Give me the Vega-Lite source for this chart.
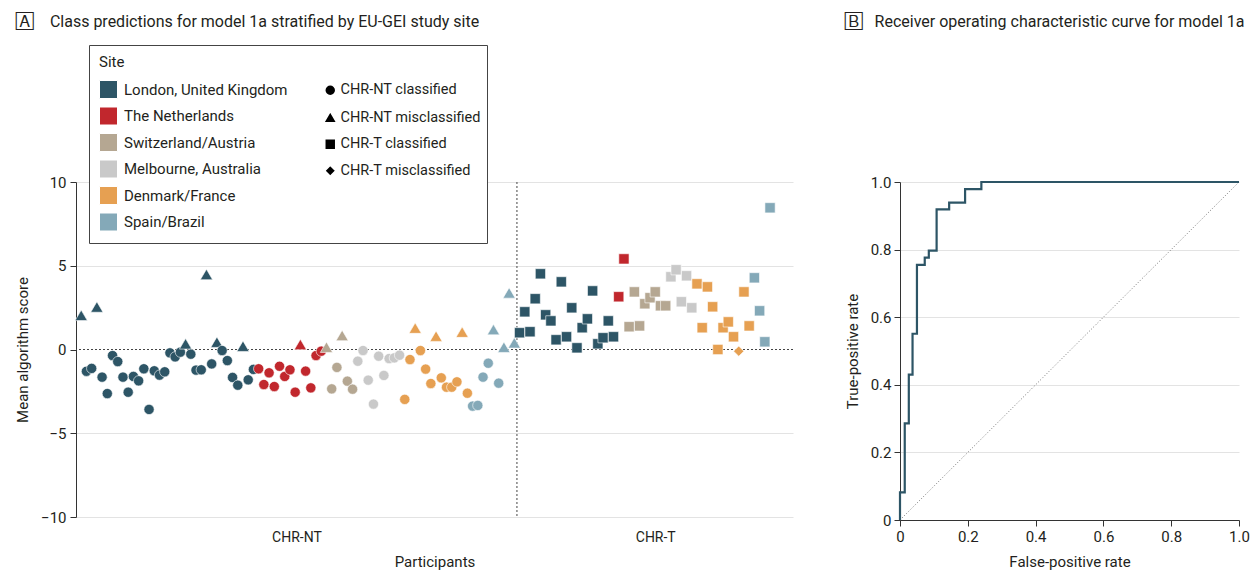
{
  "$schema": "https://vega.github.io/schema/vega-lite/v6.json",
  "padding": {"left": 15, "top": 14, "right": 5, "bottom": 5},
  "background": "white",
  "spacing": 51,
  "config": {
    "font": "Roboto",
    "view": {"stroke": null},
    "title": {"fontSize": 16, "fontWeight": "normal", "color": "#231f20", "anchor": "start", "frame": "bounds"},
    "axis": {"labelFontSize": 15, "titleFontSize": 15, "titleFontWeight": "normal", "labelColor": "#231f20", "titleColor": "#231f20", "domainColor": "#555555", "tickColor": "#555555", "gridColor": "#e3e3e3"},
    "legend": {"labelFontSize": 15, "titleFontSize": 15, "titleFontWeight": "normal", "labelColor": "#231f20", "titleColor": "#231f20", "titleLimit": 600, "labelLimit": 400}
  },
  "hconcat": [
    {
      "width": 717,
      "height": 335,
      "title": {"text": "🄰\u2003Class predictions for model 1a stratified by EU-GEI study site", "offset": 145},
      "data": {"values": [
        {"participant": 1, "score": 2.0, "site": "London, United Kingdom", "status": "CHR-NT misclassified"},
        {"participant": 2, "score": -1.3, "site": "London, United Kingdom", "status": "CHR-NT classified"},
        {"participant": 3, "score": -1.13, "site": "London, United Kingdom", "status": "CHR-NT classified"},
        {"participant": 4, "score": 2.5, "site": "London, United Kingdom", "status": "CHR-NT misclassified"},
        {"participant": 5, "score": -1.65, "site": "London, United Kingdom", "status": "CHR-NT classified"},
        {"participant": 6, "score": -2.63, "site": "London, United Kingdom", "status": "CHR-NT classified"},
        {"participant": 7, "score": -0.36, "site": "London, United Kingdom", "status": "CHR-NT classified"},
        {"participant": 8, "score": -0.72, "site": "London, United Kingdom", "status": "CHR-NT classified"},
        {"participant": 9, "score": -1.65, "site": "London, United Kingdom", "status": "CHR-NT classified"},
        {"participant": 10, "score": -2.55, "site": "London, United Kingdom", "status": "CHR-NT classified"},
        {"participant": 11, "score": -1.61, "site": "London, United Kingdom", "status": "CHR-NT classified"},
        {"participant": 12, "score": -1.87, "site": "London, United Kingdom", "status": "CHR-NT classified"},
        {"participant": 13, "score": -1.15, "site": "London, United Kingdom", "status": "CHR-NT classified"},
        {"participant": 14, "score": -3.58, "site": "London, United Kingdom", "status": "CHR-NT classified"},
        {"participant": 15, "score": -1.27, "site": "London, United Kingdom", "status": "CHR-NT classified"},
        {"participant": 16, "score": -1.53, "site": "London, United Kingdom", "status": "CHR-NT classified"},
        {"participant": 17, "score": -1.33, "site": "London, United Kingdom", "status": "CHR-NT classified"},
        {"participant": 18, "score": -0.2, "site": "London, United Kingdom", "status": "CHR-NT classified"},
        {"participant": 19, "score": -0.44, "site": "London, United Kingdom", "status": "CHR-NT classified"},
        {"participant": 20, "score": -0.16, "site": "London, United Kingdom", "status": "CHR-NT classified"},
        {"participant": 21, "score": 0.3, "site": "London, United Kingdom", "status": "CHR-NT misclassified"},
        {"participant": 22, "score": -0.28, "site": "London, United Kingdom", "status": "CHR-NT classified"},
        {"participant": 23, "score": -1.23, "site": "London, United Kingdom", "status": "CHR-NT classified"},
        {"participant": 24, "score": -1.21, "site": "London, United Kingdom", "status": "CHR-NT classified"},
        {"participant": 25, "score": 4.44, "site": "London, United Kingdom", "status": "CHR-NT misclassified"},
        {"participant": 26, "score": -0.86, "site": "London, United Kingdom", "status": "CHR-NT classified"},
        {"participant": 27, "score": 0.4, "site": "London, United Kingdom", "status": "CHR-NT misclassified"},
        {"participant": 28, "score": -0.06, "site": "London, United Kingdom", "status": "CHR-NT classified"},
        {"participant": 29, "score": -0.66, "site": "London, United Kingdom", "status": "CHR-NT classified"},
        {"participant": 30, "score": -1.67, "site": "London, United Kingdom", "status": "CHR-NT classified"},
        {"participant": 31, "score": -2.13, "site": "London, United Kingdom", "status": "CHR-NT classified"},
        {"participant": 32, "score": 0.16, "site": "London, United Kingdom", "status": "CHR-NT misclassified"},
        {"participant": 33, "score": -1.81, "site": "London, United Kingdom", "status": "CHR-NT classified"},
        {"participant": 34, "score": -1.19, "site": "London, United Kingdom", "status": "CHR-NT classified"},
        {"participant": 35, "score": -1.15, "site": "The Netherlands", "status": "CHR-NT classified"},
        {"participant": 36, "score": -2.09, "site": "The Netherlands", "status": "CHR-NT classified"},
        {"participant": 37, "score": -1.39, "site": "The Netherlands", "status": "CHR-NT classified"},
        {"participant": 38, "score": -2.21, "site": "The Netherlands", "status": "CHR-NT classified"},
        {"participant": 39, "score": -1.0, "site": "The Netherlands", "status": "CHR-NT classified"},
        {"participant": 40, "score": -1.61, "site": "The Netherlands", "status": "CHR-NT classified"},
        {"participant": 41, "score": -1.21, "site": "The Netherlands", "status": "CHR-NT classified"},
        {"participant": 42, "score": -2.55, "site": "The Netherlands", "status": "CHR-NT classified"},
        {"participant": 43, "score": 0.26, "site": "The Netherlands", "status": "CHR-NT misclassified"},
        {"participant": 44, "score": -1.29, "site": "The Netherlands", "status": "CHR-NT classified"},
        {"participant": 45, "score": -2.29, "site": "The Netherlands", "status": "CHR-NT classified"},
        {"participant": 46, "score": -0.36, "site": "The Netherlands", "status": "CHR-NT classified"},
        {"participant": 47, "score": -0.1, "site": "The Netherlands", "status": "CHR-NT classified"},
        {"participant": 48, "score": 0.1, "site": "Switzerland/Austria", "status": "CHR-NT misclassified"},
        {"participant": 49, "score": -2.35, "site": "Switzerland/Austria", "status": "CHR-NT classified"},
        {"participant": 50, "score": -1.07, "site": "Switzerland/Austria", "status": "CHR-NT classified"},
        {"participant": 51, "score": 0.8, "site": "Switzerland/Austria", "status": "CHR-NT misclassified"},
        {"participant": 52, "score": -1.89, "site": "Switzerland/Austria", "status": "CHR-NT classified"},
        {"participant": 53, "score": -2.37, "site": "Switzerland/Austria", "status": "CHR-NT classified"},
        {"participant": 54, "score": -0.7, "site": "Melbourne, Australia", "status": "CHR-NT classified"},
        {"participant": 55, "score": -0.06, "site": "Melbourne, Australia", "status": "CHR-NT classified"},
        {"participant": 56, "score": -1.83, "site": "Melbourne, Australia", "status": "CHR-NT classified"},
        {"participant": 57, "score": -3.26, "site": "Melbourne, Australia", "status": "CHR-NT classified"},
        {"participant": 58, "score": -0.4, "site": "Melbourne, Australia", "status": "CHR-NT classified"},
        {"participant": 59, "score": -1.55, "site": "Melbourne, Australia", "status": "CHR-NT classified"},
        {"participant": 60, "score": -0.54, "site": "Melbourne, Australia", "status": "CHR-NT classified"},
        {"participant": 61, "score": -0.5, "site": "Melbourne, Australia", "status": "CHR-NT classified"},
        {"participant": 62, "score": -0.34, "site": "Melbourne, Australia", "status": "CHR-NT classified"},
        {"participant": 63, "score": -2.98, "site": "Denmark/France", "status": "CHR-NT classified"},
        {"participant": 64, "score": -0.6, "site": "Denmark/France", "status": "CHR-NT classified"},
        {"participant": 65, "score": 1.24, "site": "Denmark/France", "status": "CHR-NT misclassified"},
        {"participant": 66, "score": -0.06, "site": "Denmark/France", "status": "CHR-NT classified"},
        {"participant": 67, "score": -1.17, "site": "Denmark/France", "status": "CHR-NT classified"},
        {"participant": 68, "score": -2.03, "site": "Denmark/France", "status": "CHR-NT classified"},
        {"participant": 69, "score": 0.76, "site": "Denmark/France", "status": "CHR-NT misclassified"},
        {"participant": 70, "score": -1.69, "site": "Denmark/France", "status": "CHR-NT classified"},
        {"participant": 71, "score": -2.25, "site": "Denmark/France", "status": "CHR-NT classified"},
        {"participant": 72, "score": -2.25, "site": "Denmark/France", "status": "CHR-NT classified"},
        {"participant": 73, "score": -1.93, "site": "Denmark/France", "status": "CHR-NT classified"},
        {"participant": 74, "score": 1.0, "site": "Denmark/France", "status": "CHR-NT misclassified"},
        {"participant": 75, "score": -2.61, "site": "Denmark/France", "status": "CHR-NT classified"},
        {"participant": 76, "score": -3.38, "site": "Spain/Brazil", "status": "CHR-NT classified"},
        {"participant": 77, "score": -3.34, "site": "Spain/Brazil", "status": "CHR-NT classified"},
        {"participant": 78, "score": -1.65, "site": "Spain/Brazil", "status": "CHR-NT classified"},
        {"participant": 79, "score": -0.82, "site": "Spain/Brazil", "status": "CHR-NT classified"},
        {"participant": 80, "score": 1.15, "site": "Spain/Brazil", "status": "CHR-NT misclassified"},
        {"participant": 81, "score": -2.01, "site": "Spain/Brazil", "status": "CHR-NT classified"},
        {"participant": 82, "score": 0.1, "site": "Spain/Brazil", "status": "CHR-NT misclassified"},
        {"participant": 83, "score": 3.34, "site": "Spain/Brazil", "status": "CHR-NT misclassified"},
        {"participant": 84, "score": 0.36, "site": "Spain/Brazil", "status": "CHR-NT misclassified"},
        {"participant": 85, "score": 1.0, "site": "London, United Kingdom", "status": "CHR-T classified"},
        {"participant": 86, "score": 2.25, "site": "London, United Kingdom", "status": "CHR-T classified"},
        {"participant": 87, "score": 1.06, "site": "London, United Kingdom", "status": "CHR-T classified"},
        {"participant": 88, "score": 3.03, "site": "London, United Kingdom", "status": "CHR-T classified"},
        {"participant": 89, "score": 4.52, "site": "London, United Kingdom", "status": "CHR-T classified"},
        {"participant": 90, "score": 2.07, "site": "London, United Kingdom", "status": "CHR-T classified"},
        {"participant": 91, "score": 1.71, "site": "London, United Kingdom", "status": "CHR-T classified"},
        {"participant": 92, "score": 0.58, "site": "London, United Kingdom", "status": "CHR-T classified"},
        {"participant": 93, "score": 4.04, "site": "London, United Kingdom", "status": "CHR-T classified"},
        {"participant": 94, "score": 0.76, "site": "London, United Kingdom", "status": "CHR-T classified"},
        {"participant": 95, "score": 2.49, "site": "London, United Kingdom", "status": "CHR-T classified"},
        {"participant": 96, "score": 0.1, "site": "London, United Kingdom", "status": "CHR-T classified"},
        {"participant": 97, "score": 1.3, "site": "London, United Kingdom", "status": "CHR-T classified"},
        {"participant": 98, "score": 1.83, "site": "London, United Kingdom", "status": "CHR-T classified"},
        {"participant": 99, "score": 3.5, "site": "London, United Kingdom", "status": "CHR-T classified"},
        {"participant": 100, "score": 0.34, "site": "London, United Kingdom", "status": "CHR-T classified"},
        {"participant": 101, "score": 0.7, "site": "London, United Kingdom", "status": "CHR-T classified"},
        {"participant": 102, "score": 1.71, "site": "London, United Kingdom", "status": "CHR-T classified"},
        {"participant": 103, "score": 0.76, "site": "London, United Kingdom", "status": "CHR-T classified"},
        {"participant": 104, "score": 3.15, "site": "The Netherlands", "status": "CHR-T classified"},
        {"participant": 105, "score": 5.41, "site": "The Netherlands", "status": "CHR-T classified"},
        {"participant": 106, "score": 1.36, "site": "Switzerland/Austria", "status": "CHR-T classified"},
        {"participant": 107, "score": 3.44, "site": "Switzerland/Austria", "status": "CHR-T classified"},
        {"participant": 108, "score": 1.41, "site": "Switzerland/Austria", "status": "CHR-T classified"},
        {"participant": 109, "score": 2.73, "site": "Switzerland/Austria", "status": "CHR-T classified"},
        {"participant": 110, "score": 3.09, "site": "Switzerland/Austria", "status": "CHR-T classified"},
        {"participant": 111, "score": 3.44, "site": "Switzerland/Austria", "status": "CHR-T classified"},
        {"participant": 112, "score": 2.61, "site": "Switzerland/Austria", "status": "CHR-T classified"},
        {"participant": 113, "score": 2.61, "site": "Switzerland/Austria", "status": "CHR-T classified"},
        {"participant": 114, "score": 4.34, "site": "Melbourne, Australia", "status": "CHR-T classified"},
        {"participant": 115, "score": 4.76, "site": "Melbourne, Australia", "status": "CHR-T classified"},
        {"participant": 116, "score": 2.85, "site": "Melbourne, Australia", "status": "CHR-T classified"},
        {"participant": 117, "score": 4.4, "site": "Melbourne, Australia", "status": "CHR-T classified"},
        {"participant": 118, "score": 2.49, "site": "Melbourne, Australia", "status": "CHR-T classified"},
        {"participant": 119, "score": 3.92, "site": "Denmark/France", "status": "CHR-T classified"},
        {"participant": 120, "score": 1.3, "site": "Denmark/France", "status": "CHR-T classified"},
        {"participant": 121, "score": 3.74, "site": "Denmark/France", "status": "CHR-T classified"},
        {"participant": 122, "score": 2.55, "site": "Denmark/France", "status": "CHR-T classified"},
        {"participant": 123, "score": 0.0, "site": "Denmark/France", "status": "CHR-T classified"},
        {"participant": 124, "score": 1.3, "site": "Denmark/France", "status": "CHR-T classified"},
        {"participant": 125, "score": 1.65, "site": "Denmark/France", "status": "CHR-T classified"},
        {"participant": 126, "score": 0.76, "site": "Denmark/France", "status": "CHR-T classified"},
        {"participant": 127, "score": -0.1, "site": "Denmark/France", "status": "CHR-T misclassified"},
        {"participant": 128, "score": 3.44, "site": "Denmark/France", "status": "CHR-T classified"},
        {"participant": 129, "score": 1.41, "site": "Denmark/France", "status": "CHR-T classified"},
        {"participant": 130, "score": 4.28, "site": "Spain/Brazil", "status": "CHR-T classified"},
        {"participant": 131, "score": 2.31, "site": "Spain/Brazil", "status": "CHR-T classified"},
        {"participant": 132, "score": 0.46, "site": "Spain/Brazil", "status": "CHR-T classified"},
        {"participant": 133, "score": 8.46, "site": "Spain/Brazil", "status": "CHR-T classified"}
      ]},
      "layer": [
        {
          "data": {"values": [{}]},
          "mark": {"type": "rule", "strokeDash": [2, 2], "color": "#444444", "strokeWidth": 1},
          "encoding": {"y": {"datum": 0, "type": "quantitative"}}
        },
        {
          "data": {"values": [{}]},
          "mark": {"type": "rule", "strokeDash": [2, 2], "color": "#444444", "strokeWidth": 1},
          "encoding": {"x": {"datum": 84.5, "type": "quantitative"}}
        },
        {
          "mark": {"type": "point", "filled": true, "opacity": 1, "size": 105, "stroke": "white", "strokeWidth": 0.6},
          "encoding": {
            "x": {
              "field": "participant", "type": "quantitative",
              "scale": {"domain": [0, 137.4], "nice": false, "zero": false},
              "title": "Participants",
              "axis": {"domain": false, "ticks": false, "grid": false, "values": [42.25, 111], "labelExpr": "datum.value < 84.5 ? 'CHR-NT' : 'CHR-T'", "labelPadding": 13, "titlePadding": 10, "labelFontSize": 14}
            },
            "y": {
              "field": "score", "type": "quantitative",
              "scale": {"domain": [-10, 10], "nice": false},
              "title": "Mean algorithm score",
              "axis": {"values": [-10, -5, 0, 5, 10], "grid": true, "gridColor": {"condition": {"test": "datum.value === 0", "value": "transparent"}, "value": "#e3e3e3"}, "tickSize": 6, "labelPadding": 4, "titlePadding": 10, "domainColor": "#333333", "tickColor": "#333333"}
            },
            "color": {
              "field": "site", "type": "nominal",
              "scale": {
                "domain": ["London, United Kingdom", "The Netherlands", "Switzerland/Austria", "Melbourne, Australia", "Denmark/France", "Spain/Brazil"],
                "range": ["#2d5566", "#c1272d", "#b5a792", "#c9c9c9", "#e6a052", "#84a9b8"]
              },
              "legend": {
                "orient": "none", "legendX": 13, "legendY": -137,
                "title": "Site\u2003\u2003\u2003\u2003\u2003\u2003\u2003\u2003\u2003\u2003\u2003\u2003\u2003\u2003\u2003\u2003\u2003\u2003\u2003\u2003\u2003\u2003\u2003\u200b",
                "titleLimit": 600,
                "symbolType": "square", "symbolSize": 324, "symbolStrokeWidth": 1,
                "rowPadding": 3.5, "labelOffset": 6, "titlePadding": 10,
                "strokeColor": "#444444", "fillColor": "white", "padding": 10,
                "encode": {"symbols": {"update": {"stroke": {"value": "#444444"}, "strokeWidth": {"value": 1}}}}
              }
            },
            "shape": {
              "field": "status", "type": "nominal",
              "scale": {
                "domain": ["CHR-NT classified", "CHR-NT misclassified", "CHR-T classified", "CHR-T misclassified"],
                "range": ["circle", "M-1.2,0.9L0,-1.15L1.2,0.9Z", "square", "diamond"]
              },
              "legend": {
                "orient": "none", "legendX": 247, "legendY": -99,
                "title": null, "symbolSize": 120, "rowPadding": 8.5, "labelOffset": 3, "padding": 0, "labelFontSize": 14.5,
                "encode": {"symbols": {"update": {"fill": {"value": "#231f20"}, "stroke": {"value": "#231f20"}, "strokeWidth": {"value": 0}}}}
              }
            }
          }
        }
      ]
    },
    {
      "width": 339,
      "height": 338,
      "title": {"text": "🄱\u2002\u2009Receiver operating characteristic curve for model 1a", "offset": 145},
      "layer": [
        {
          "data": {"values": [{"fpr": 0, "tpr": 0}, {"fpr": 1, "tpr": 1}]},
          "mark": {"type": "line", "strokeDash": [1, 2], "color": "#777777", "strokeWidth": 1},
          "encoding": {
            "x": {"field": "fpr", "type": "quantitative"},
            "y": {"field": "tpr", "type": "quantitative"}
          }
        },
        {
          "data": {"values": [
            {"step": 0, "fpr": 0, "tpr": 0},
            {"step": 1, "fpr": 0, "tpr": 0.082},
            {"step": 2, "fpr": 0.014, "tpr": 0.286},
            {"step": 3, "fpr": 0.026, "tpr": 0.43},
            {"step": 4, "fpr": 0.037, "tpr": 0.551},
            {"step": 5, "fpr": 0.05, "tpr": 0.755},
            {"step": 6, "fpr": 0.073, "tpr": 0.776},
            {"step": 7, "fpr": 0.085, "tpr": 0.797},
            {"step": 8, "fpr": 0.108, "tpr": 0.919},
            {"step": 9, "fpr": 0.145, "tpr": 0.939},
            {"step": 10, "fpr": 0.192, "tpr": 0.979},
            {"step": 11, "fpr": 0.24, "tpr": 1.0},
            {"step": 12, "fpr": 1.0, "tpr": 1.0}
          ]},
          "mark": {"type": "line", "interpolate": "step-after", "color": "#2d5566", "strokeWidth": 2.2},
          "encoding": {
            "x": {
              "field": "fpr", "type": "quantitative",
              "scale": {"domain": [0, 1], "nice": false},
              "title": "False-positive rate",
              "axis": {"values": [0, 0.2, 0.4, 0.6, 0.8, 1], "grid": false, "labelExpr": "datum.value == 0 ? '0' : format(datum.value, '.1f')", "tickSize": 6, "labelPadding": 3, "titlePadding": 10, "domainColor": "#333333", "tickColor": "#333333", "labelFlush": false}
            },
            "y": {
              "field": "tpr", "type": "quantitative",
              "scale": {"domain": [0, 1], "nice": false},
              "title": "True-positive rate",
              "axis": {"values": [0, 0.2, 0.4, 0.6, 0.8, 1], "grid": true, "labelExpr": "datum.value == 0 ? '0' : format(datum.value, '.1f')", "tickSize": 6, "labelPadding": 3, "titlePadding": 10, "domainColor": "#333333", "tickColor": "#333333", "labelFlush": false}
            },
            "order": {"field": "step", "type": "quantitative"}
          }
        }
      ]
    }
  ]
}
